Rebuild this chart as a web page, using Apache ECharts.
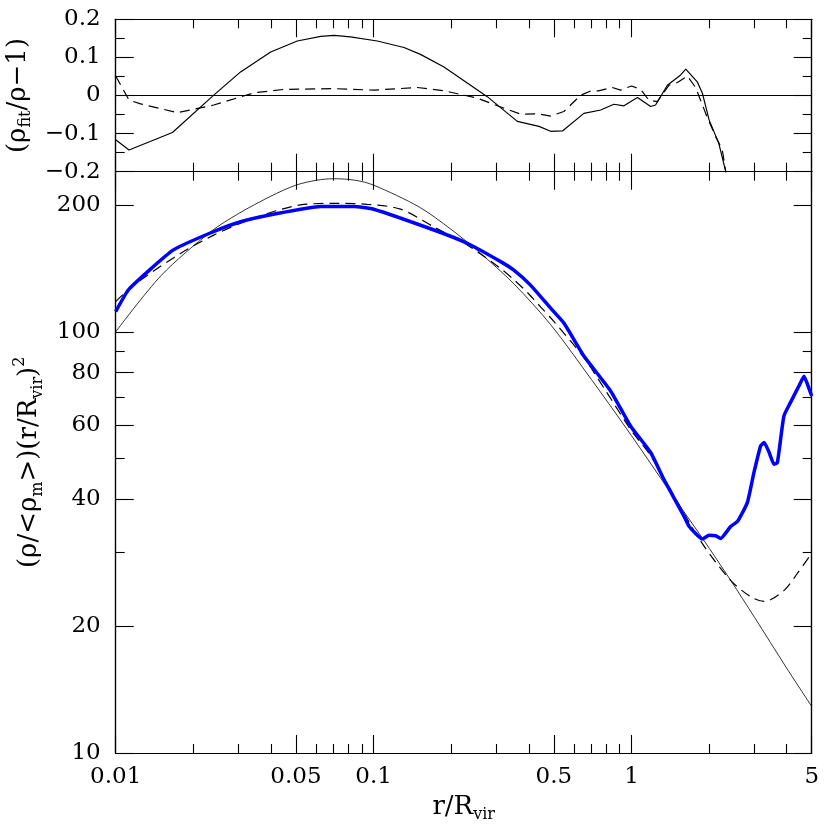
<!DOCTYPE html>
<html><head><meta charset="utf-8">
<script src="https://cdn.jsdelivr.net/npm/echarts@6/dist/echarts.min.js"></script>
<style>html,body{margin:0;padding:0;background:#fff}#c{width:830px;height:830px}</style>
</head><body><div id="c"></div>
<script>
// ---------------- data ----------------
// top panel: residuals (rho_fit/rho - 1)
const resSolidX = [0.01,0.01126,0.0166,0.024,0.0305,0.0399,0.0506,0.0624,0.0703,0.0813,0.1034,0.1312,0.152,0.1875,0.276,0.361,0.438,0.486,0.54,0.654,0.76,0.855,0.935,1.055,1.187,1.24,1.378,1.552,1.624,1.80,1.884,2.0,2.18,2.32,2.45];
const resSolidY = [-0.116,-0.143,-0.097,0.001,0.062,0.114,0.143,0.155,0.158,0.154,0.143,0.126,0.108,0.075,-0.003,-0.068,-0.081,-0.094,-0.093,-0.047,-0.038,-0.023,-0.027,-0.005,-0.029,-0.025,0.027,0.054,0.069,0.036,0.006,-0.064,-0.125,-0.199,-0.32];
const resDashX = [0.01,0.01126,0.0125,0.01735,0.024,0.0344,0.0449,0.07,0.1,0.1478,0.1875,0.2526,0.302,0.372,0.432,0.486,0.547,0.636,0.695,0.745,0.843,0.908,1.0,1.086,1.168,1.26,1.398,1.507,1.648,1.774,1.94,2.12,2.25,2.32,2.4];
const resDashY = [0.051,-0.012,-0.022,-0.045,-0.025,0.007,0.016,0.018,0.014,0.021,0.0125,-0.007,-0.027,-0.049,-0.048,-0.054,-0.042,0.001,0.012,0.012,0.021,0.014,0.025,0.016,-0.012,-0.016,0.027,0.034,0.051,0.021,-0.047,-0.108,-0.142,-0.199,-0.32];

// bottom panel: (rho/<rho_m>)(r/Rvir)^2
const thinX = [0.01,0.015,0.0234,0.03,0.04,0.05,0.06,0.07,0.085,0.1,0.15,0.2,0.2556,0.35,0.486,0.7,1,1.4,1.888,2.425,3,4,5];
const thinY = [100,136,173,191,210,223,229,231,229,223,198,175,155,130,104,77,56.7,42,32.3,25.7,21.0,15.9,12.9];
const dashX = [0.01,0.01178,0.0179,0.024,0.0305,0.0387,0.0521,0.0703,0.0944,0.1273,0.1714,0.2307,0.311,0.35,0.4,0.445,0.5,0.654,0.8,0.993,1.2,1.507,1.884,2.425,2.9,3.27,3.9,4.4,5];
const dashY = [118,129.3,153.7,169.7,181,191,200.2,201.8,200.8,195.6,177.4,160.8,141.3,133,123,114.5,105.9,86.8,72,58.6,50.3,39.5,31.4,25.7,23.5,22.9,24.3,26.7,29.8];
const blueX = [0.01,0.01126,0.01668,0.0234,0.0305,0.0423,0.0624,0.0838,0.1,0.1714,0.2307,0.311,0.349,0.406,0.486,0.547,0.654,0.83,0.993,1.187,1.337,1.598,1.674,1.884,2.0,2.12,2.218,2.425,2.58,2.814,2.985,3.17,3.27,3.42,3.57,3.68,3.9,4.14,4.46,4.67,4.89,5.0];
const blueY = [111.7,126.3,156.3,171.9,182.5,190.9,198.4,198.4,195.5,174.5,162.3,146.8,140.3,129.1,113.8,104.9,87.6,72.4,59.7,51.7,44.6,36.5,34.5,32.2,32.9,32.8,32.3,34.5,35.5,39.3,46.3,53.6,54.6,51.7,48.5,48.9,63.1,68.0,74.4,78.4,73.1,70.4];

// axis ticks / labels
const X_MIN = 0.01, X_MAX = 5;
const xMajorTicks = [0.01,0.05,0.1,0.5,1,5];
const xMinorTicks = [0.02,0.03,0.04,0.06,0.07,0.08,0.09,0.2,0.3,0.4,0.6,0.7,0.8,0.9,2,3,4];
const xLabelVals = [0.01,0.05,0.1,0.5,1,5];
const RES_MIN = -0.2, RES_MAX = 0.2;
const resMajorTicks = [-0.2,-0.1,0,0.1,0.2];
const resMinorTicks = [-0.15,-0.05,0.05,0.15];
const resLabelVals = [-0.2,-0.1,0,0.1,0.2];
const PROF_MIN = 10, PROF_MAX = 240;
const profMajorTicks = [10,20,40,60,80,100,200];
const profMinorTicks = [30,50,70,90];
const profLabelVals = [10,20,40,60,80,100,200];

// ---------------- chart ----------------
const FONT = 'DejaVu Serif';
const zip = (xs, ys) => xs.map((x, i) => [x, ys[i]]);
const MAJ = 18, MIN = 9;
const lineSt = {color: '#000', width: 1.2};
const tickSt = {color: '#000', width: 1.1};
const fmtX = v => String(+(+v).toPrecision(3));
const fmtRes = v => { v = +(+v).toFixed(2); return v === 0 ? '0' : (v < 0 ? '\u2212' : '') + Math.abs(v).toFixed(1); };
const fmtProf = v => String(Math.round(v));

function axis(dim, type, grid, pos, min, max, ticks, len, labels, fmt) {
  const a = {
    type, gridIndex: grid, position: pos, min, max,
    axisLine: {show: true, onZero: false, lineStyle: lineSt},
    axisTick: {show: true, inside: true, length: len, customValues: ticks, lineStyle: tickSt},
    axisLabel: labels ? {show: true, customValues: labels, margin: dim === 'x' ? 13 : 15, color: '#000',
      fontFamily: FONT, fontSize: 23, formatter: fmt} : {show: false},
    splitLine: {show: false}, minorTick: {show: false}, minorSplitLine: {show: false}
  };
  if (type === 'log') a.logBase = 10;
  return a;
}

const nameRich = {
  n: {fontFamily: FONT, fontSize: 26, color: '#000'},
  s: {fontFamily: FONT, fontSize: 16, color: '#000', padding: [16, 0, 0, 0]},
  p: {fontFamily: FONT, fontSize: 16, color: '#000', padding: [0, 0, 20, 0]}
};

const xAxes = [
  // grid 0 (residuals)
  axis('x', 'log', 0, 'bottom', X_MIN, X_MAX, xMajorTicks, MAJ, null),
  axis('x', 'log', 0, 'bottom', X_MIN, X_MAX, xMinorTicks, MIN, null),
  axis('x', 'log', 0, 'top', X_MIN, X_MAX, xMajorTicks, MAJ, null),
  axis('x', 'log', 0, 'top', X_MIN, X_MAX, xMinorTicks, MIN, null),
  // grid 1 (profile)
  axis('x', 'log', 1, 'bottom', X_MIN, X_MAX, xMajorTicks, MAJ, xLabelVals, fmtX),
  axis('x', 'log', 1, 'bottom', X_MIN, X_MAX, xMinorTicks, MIN, null),
  axis('x', 'log', 1, 'top', X_MIN, X_MAX, xMajorTicks, MAJ, null),
  axis('x', 'log', 1, 'top', X_MIN, X_MAX, xMinorTicks, MIN, null)
];
Object.assign(xAxes[4], {
  name: '{n|r/R}{s|vir}', nameLocation: 'middle', nameGap: 37,
  nameTextStyle: {rich: nameRich}
});

const yAxes = [
  axis('y', 'value', 0, 'left', RES_MIN, RES_MAX, resMajorTicks, MAJ, resLabelVals, fmtRes),
  axis('y', 'value', 0, 'left', RES_MIN, RES_MAX, resMinorTicks, MIN, null),
  axis('y', 'value', 0, 'right', RES_MIN, RES_MAX, resMajorTicks, MAJ, null),
  axis('y', 'value', 0, 'right', RES_MIN, RES_MAX, resMinorTicks, MIN, null),
  axis('y', 'log', 1, 'left', PROF_MIN, PROF_MAX, profMajorTicks, MAJ, profLabelVals, fmtProf),
  axis('y', 'log', 1, 'left', PROF_MIN, PROF_MAX, profMinorTicks, MIN, null),
  axis('y', 'log', 1, 'right', PROF_MIN, PROF_MAX, profMajorTicks, MAJ, null),
  axis('y', 'log', 1, 'right', PROF_MIN, PROF_MAX, profMinorTicks, MIN, null)
];
Object.assign(yAxes[0], {
  name: '{n|(\u03C1}{s|fit}{n|/\u03C1\u22121)}', nameLocation: 'middle', nameGap: 70,
  nameTextStyle: {rich: nameRich}
});
Object.assign(yAxes[4], {
  name: '{n|(\u03C1/<\u03C1}{s|m}{n|>)(r/R}{s|vir}{n|)}{p|2}', nameLocation: 'middle', nameGap: 68,
  nameTextStyle: {rich: nameRich}
});

const base = {type: 'line', symbol: 'none', silent: true, animation: false, clip: true};
const series = [
  Object.assign({}, base, {xAxisIndex: 0, yAxisIndex: 0, data: zip(resSolidX, resSolidY),
    lineStyle: {color: '#000', width: 1.2},
    markLine: {silent: true, symbol: 'none', label: {show: false}, animation: false,
      lineStyle: {color: '#000', width: 1.1, type: 'solid'}, data: [{yAxis: 0}]}}),
  Object.assign({}, base, {xAxisIndex: 0, yAxisIndex: 0, data: zip(resDashX, resDashY),
    lineStyle: {color: '#000', width: 1.2, type: [10, 6]}}),
  Object.assign({}, base, {xAxisIndex: 4, yAxisIndex: 4, data: zip(thinX, thinY), smooth: 0.3,
    lineStyle: {color: '#000', width: 0.8}}),
  Object.assign({}, base, {xAxisIndex: 4, yAxisIndex: 4, data: zip(dashX, dashY), smooth: 0.3,
    lineStyle: {color: '#000', width: 1.2, type: [10, 6]}}),
  Object.assign({}, base, {xAxisIndex: 4, yAxisIndex: 4, data: zip(blueX, blueY), smooth: 0.15,
    lineStyle: {color: '#0000ff', width: 3.5}})
];

const chart = echarts.init(document.getElementById('c'), null, {renderer: 'canvas'});
chart.setOption({
  animation: false,
  backgroundColor: '#fff',
  textStyle: {fontFamily: FONT},
  grid: [
    {left: 115.7, top: 19.3, width: 696, height: 152.4, containLabel: false, outerBoundsMode: 'none'},
    {left: 115.7, top: 171.7, width: 696, height: 581.3, containLabel: false, outerBoundsMode: 'none'}
  ],
  xAxis: xAxes,
  yAxis: yAxes,
  series
});
</script>
</body></html>
